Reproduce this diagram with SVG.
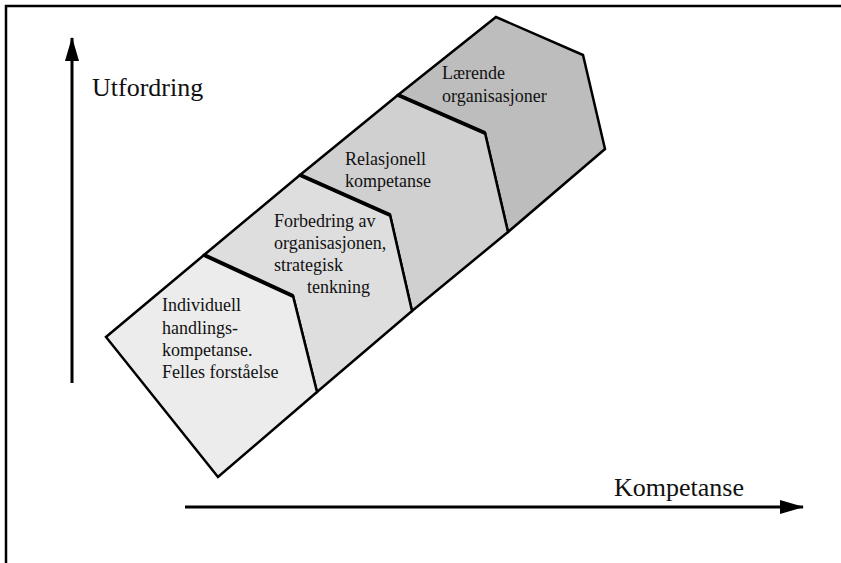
<svg xmlns="http://www.w3.org/2000/svg" width="841" height="563" viewBox="0 0 841 563">
<style>
.shape{stroke:#000;stroke-width:2.5;stroke-linejoin:miter}
.div{fill:none;stroke:#000;stroke-width:4}
.lbl{font-family:"Liberation Serif","Times New Roman",serif;font-size:18px;fill:#111}
.ax{font-family:"Liberation Serif","Times New Roman",serif;font-size:26px;fill:#111}
.axis{stroke:#000;stroke-width:3;fill:none}
</style>
<defs>
<marker id="ah" viewBox="0 0 24 14" refX="23" refY="7" markerWidth="24" markerHeight="14" markerUnits="userSpaceOnUse" orient="auto">
<path d="M0,0 L24,7 L0,14 Z" fill="#000"/>
</marker>
</defs>
<rect width="841" height="563" fill="#fff"/>
<path d="M6,563 V6 H841" fill="none" stroke="#000" stroke-width="2.5"/>
<g id="node-laerende">
<polygon class="shape" fill="#bdbdbd" points="398,95 496,17 583,55 605,149 508,232 485,133"/>
<text class="lbl" x="442" y="79">Lærende</text>
<text class="lbl" x="442" y="102">organisasjoner</text>
</g>
<g id="node-relasjonell">
<polygon class="shape" fill="#d0d0d0" points="300,175 398,95 485,133 508,232 412,311 390,215"/>
<text class="lbl" x="345" y="165">Relasjonell</text>
<text class="lbl" x="345" y="187">kompetanse</text>
</g>
<g id="node-forbedring">
<polygon class="shape" fill="#dedede" points="204,255 300,175 390,215 412,311 317,392 293,296"/>
<text class="lbl" x="274" y="227">Forbedring av</text>
<text class="lbl" x="274" y="249">organisasjonen,</text>
<text class="lbl" x="274" y="271">strategisk</text>
<text class="lbl" x="307" y="293">tenkning</text>
</g>
<g id="node-individuell">
<polygon class="shape" fill="#ececec" points="204,255 293,296 317,392 218,477 106,337"/>
<text class="lbl" x="162" y="311">Individuell</text>
<text class="lbl" x="162" y="334">handlings-</text>
<text class="lbl" x="162" y="356">kompetanse.</text>
<text class="lbl" x="162" y="378">Felles forståelse</text>
</g>
<g id="connectors">
<polyline class="div" points="204,255 293,296"/>
<polyline class="div" points="300,175 390,215"/>
<polyline class="div" points="398,95 485,133"/>
<line class="axis" x1="72" y1="383" x2="72" y2="38" marker-end="url(#ah)"/>
<line class="axis" x1="185" y1="507" x2="803" y2="507" marker-end="url(#ah)"/>
</g>
<text class="ax" x="92" y="96">Utfordring</text>
<text class="ax" x="614" y="496">Kompetanse</text>
</svg>
